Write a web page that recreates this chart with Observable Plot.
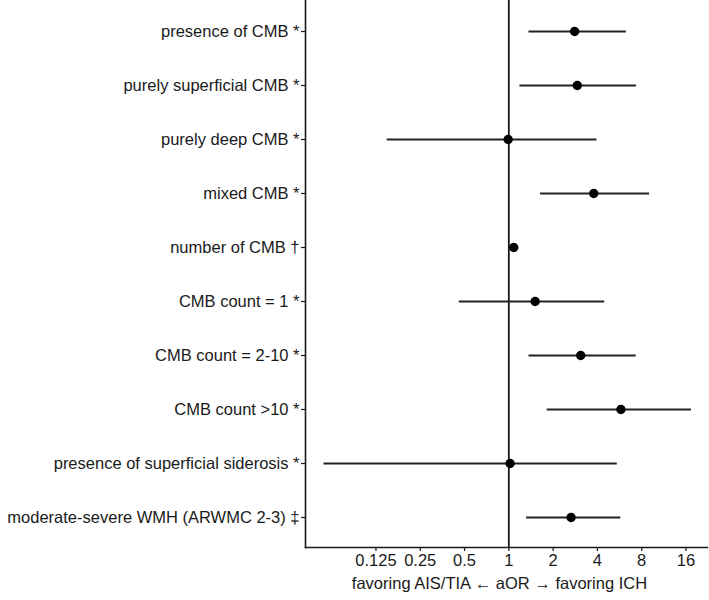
<!DOCTYPE html>
<html><head><meta charset="utf-8">
<script src="https://cdn.jsdelivr.net/npm/d3@7"></script>
<script src="https://cdn.jsdelivr.net/npm/@observablehq/plot@0.6"></script>
<style>
body{margin:0;background:#fff}
svg{font-family:"Liberation Sans",Arial,Helvetica,sans-serif}
</style>
</head><body><div id="chart"></div>
<script>
const labels = [
  "presence of CMB *",
  "purely superficial CMB *",
  "purely deep CMB *",
  "mixed CMB *",
  "number of CMB \u2020",
  "CMB count = 1 *",
  "CMB count = 2-10 *",
  "CMB count >10 *",
  "presence of superficial siderosis *",
  "moderate-severe WMH (ARWMC 2-3) \u2021"
];
const estimate = [2.80, 2.92, 0.99, 3.78, 1.08, 1.51, 3.08, 5.78, 1.02, 2.65];
const lower    = [1.36, 1.18, 0.148, 1.63, 1.05, 0.457, 1.36, 1.81, 0.055, 1.31];
const upper    = [6.24, 7.31, 3.94, 8.98, 1.11, 4.45, 7.28, 17.3, 5.42, 5.72];
const xTicks = [0.125, 0.25, 0.5, 1, 2, 4, 8, 16];
const xLabel = "favoring AIS/TIA \u2190 aOR \u2192 favoring ICH";
const xDomain = [0.0415, 22.4];

const data = labels.map((label, i) => ({label, est: estimate[i], lo: lower[i], hi: upper[i]}));

const chart = Plot.plot({
  width: 709, height: 600,
  marginLeft: 305, marginRight: 2, marginTop: 0, marginBottom: 53,
  style: {fontSize: "16.5px", fontFamily: '"Liberation Sans",Arial,sans-serif', color: "#1a1a1a", background: "#fff"},
  x: {type: "log", base: 2, domain: xDomain},
  y: {type: "point", domain: labels, padding: 0.5},
  marks: [
    Plot.frame({anchor: "bottom", stroke: "#1a1a1a", strokeWidth: 1.6}),
    Plot.frame({anchor: "left", stroke: "#1a1a1a", strokeWidth: 1.6}),
    Plot.axisX({ticks: xTicks, tickFormat: d => String(d), tickSize: 4, tickPadding: 3, strokeWidth: 1.2, fontSize: 16.5, label: null}),
    Plot.axisY({tickSize: 4, tickPadding: 2, strokeWidth: 1.2, fontSize: 16.5, label: null}),
    Plot.text([xLabel], {frameAnchor: "bottom", dy: 41, dx: -7, fontSize: 16.5, fill: "#1a1a1a"}),
    Plot.ruleX([1], {stroke: "#1a1a1a", strokeWidth: 1.8}),
    Plot.link(data, {x1: "lo", x2: "hi", y1: "label", y2: "label", stroke: "#222", strokeWidth: 1.8}),
    Plot.dot(data, {x: "est", y: "label", r: 4.7, fill: "#000", stroke: "none"})
  ]
});
document.getElementById("chart").appendChild(chart);
</script>
</body></html>
